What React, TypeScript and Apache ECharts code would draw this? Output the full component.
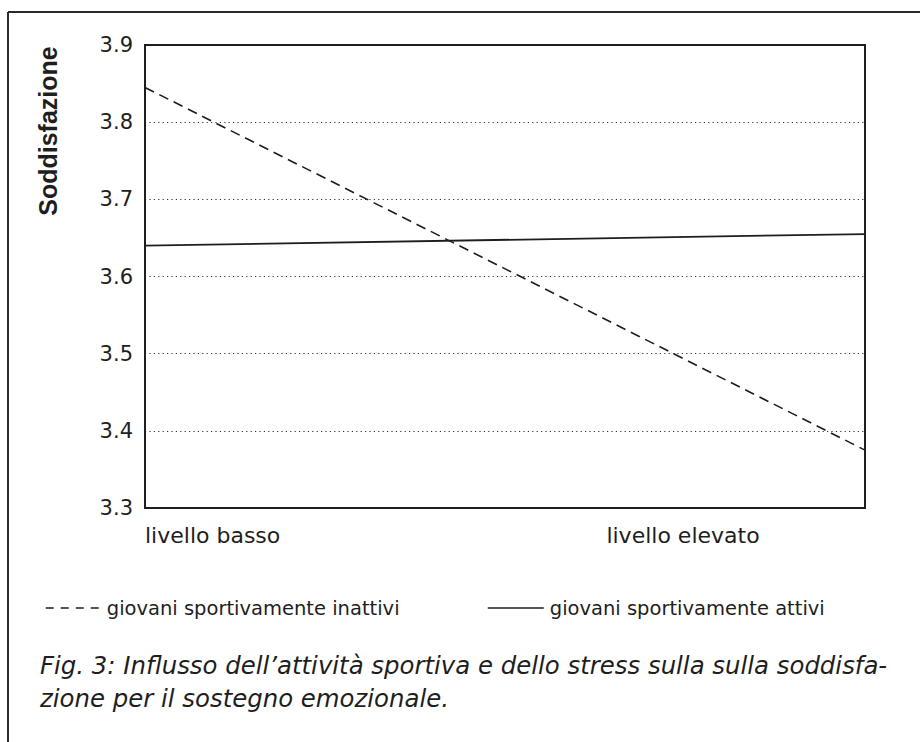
import React, { useEffect, useRef } from "react";
import * as echarts from "echarts";

// ---- data ----
const categories = ["livello basso", "livello elevato"];
const seriesNames = ["giovani sportivamente inattivi", "giovani sportivamente attivi"];
const inattivi = [3.845, 3.375];
const attivi = [3.64, 3.655];
const yMin = 3.3;
const yMax = 3.9;
const yStep = 0.1;
const yTitle = "Soddisfazione";
const captionLines = [
  "Fig. 3: Influsso dell\u2019attività sportiva e dello stress sulla sulla soddisfa-",
  "zione per il sostegno emozionale.",
];

const INK = "#1e1e1e";
const REG = "'DejaVu Sans', 'Liberation Sans', sans-serif";
const BOLD = "'Liberation Sans', Arial, sans-serif";

export default function App() {
  const ref = useRef<HTMLDivElement>(null);
  useEffect(() => {
    const chart = echarts.init(ref.current!, null, { renderer: "svg" });
    const legendCommon = {
      top: 593,
      itemHeight: 14,
      selectedMode: false,
      itemStyle: { opacity: 0, color: "transparent", borderWidth: 0 },
      textStyle: { color: INK, fontFamily: REG, fontSize: 19.5, padding: [0, 0, 0, 1] },
    };
    chart.setOption({
      animation: false,
      backgroundColor: "#ffffff",
      grid: {
        left: 145,
        top: 45,
        right: 55,
        bottom: 234,
        show: true,
        borderColor: INK,
        borderWidth: 2,
        backgroundColor: "transparent",
      },
      xAxis: {
        type: "category",
        data: categories,
        boundaryGap: false,
        axisLabel: { show: false },
        axisTick: { show: false },
        axisLine: { show: false },
        splitLine: { show: false },
      },
      yAxis: {
        type: "value",
        min: yMin,
        max: yMax,
        interval: yStep,
        axisLine: { show: false },
        axisTick: { show: false },
        axisLabel: {
          color: INK,
          fontFamily: REG,
          fontSize: 21,
          margin: 12,
          formatter: (v: number) => v.toFixed(1),
        },
        splitLine: {
          show: true,
          showMinLine: false,
          showMaxLine: false,
          lineStyle: { color: "#333", width: 1.2, type: [1.2, 3.2] },
        },
      },
      legend: [
        {
          ...legendCommon,
          data: [seriesNames[0]],
          left: 40,
          itemWidth: 55,
          lineStyle: { type: [8, 7], width: 1.5 },
        },
        {
          ...legendCommon,
          data: [seriesNames[1]],
          left: 482,
          itemWidth: 56,
          lineStyle: { width: 1.5 },
        },
      ],
      series: [
        {
          name: seriesNames[0],
          type: "line",
          data: inattivi,
          symbol: "none",
          lineStyle: { color: INK, width: 1.6, type: [10, 6] },
          itemStyle: { color: INK },
        },
        {
          name: seriesNames[1],
          type: "line",
          data: attivi,
          symbol: "none",
          lineStyle: { color: INK, width: 1.8, type: "solid" },
          itemStyle: { color: INK },
        },
      ],
      graphic: [
        {
          type: "line",
          shape: { x1: 8, y1: 12, x2: 920, y2: 12 },
          style: { stroke: "#2a2a2a", lineWidth: 2 },
        },
        {
          type: "line",
          shape: { x1: 8, y1: 12, x2: 8, y2: 742 },
          style: { stroke: "#2a2a2a", lineWidth: 2 },
        },
        {
          type: "text",
          x: 48,
          y: 131,
          rotation: Math.PI / 2,
          style: {
            text: yTitle,
            fill: INK,
            font: `bold 25px ${BOLD}`,
            align: "center",
            verticalAlign: "middle",
          },
        },
        {
          type: "text",
          x: 145,
          y: 535,
          style: {
            text: categories[0],
            fill: INK,
            font: `22px ${REG}`,
            align: "left",
            verticalAlign: "middle",
          },
        },
        {
          type: "text",
          x: 683,
          y: 535,
          style: {
            text: categories[1],
            fill: INK,
            font: `22px ${REG}`,
            align: "center",
            verticalAlign: "middle",
          },
        },
        {
          type: "text",
          x: 40,
          y: 665,
          style: {
            text: captionLines[0],
            fill: INK,
            font: `italic 24.4px ${REG}`,
            align: "left",
            verticalAlign: "middle",
          },
        },
        {
          type: "text",
          x: 40,
          y: 698,
          style: {
            text: captionLines[1],
            fill: INK,
            font: `italic 24.4px ${REG}`,
            align: "left",
            verticalAlign: "middle",
          },
        },
      ],
    });
    return () => chart.dispose();
  }, []);
  return (
    <div
      ref={ref}
      style={{ position: "absolute", left: 0, top: 0, width: 920, height: 742, background: "#fff" }}
    />
  );
}
